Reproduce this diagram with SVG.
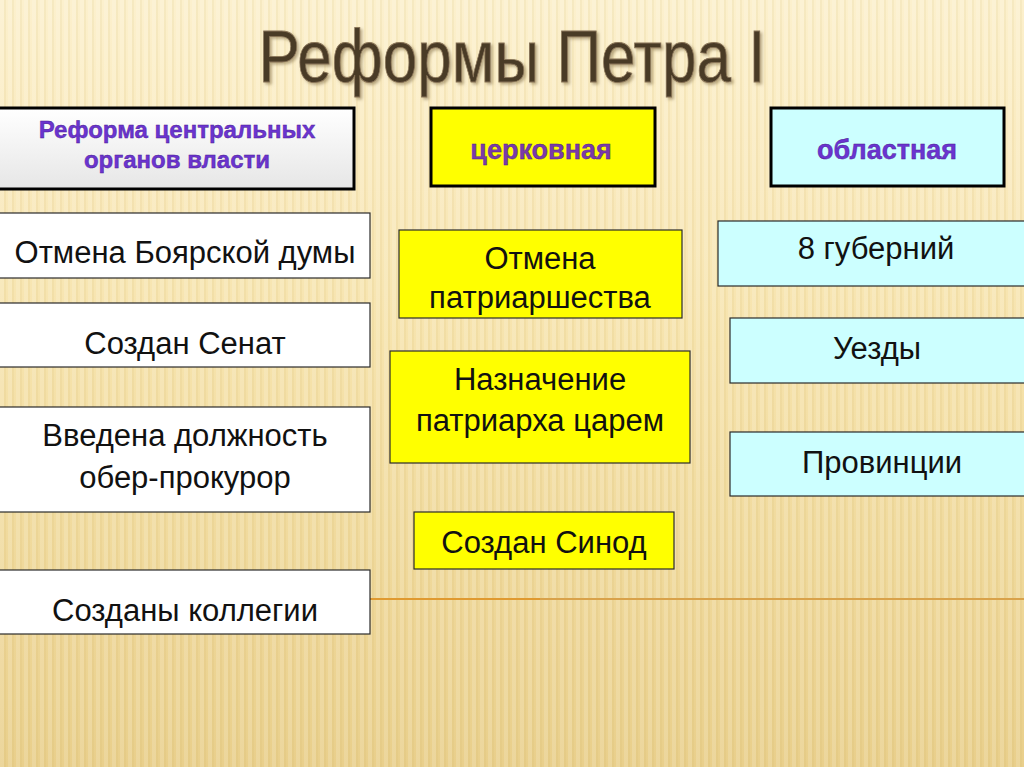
<svg xmlns="http://www.w3.org/2000/svg" width="1024" height="767" viewBox="0 0 1024 767">
  <defs>
    <linearGradient id="bg" x1="0" y1="0" x2="0" y2="1">
      <stop offset="0" stop-color="#fcf0cd"/>
      <stop offset="0.45" stop-color="#f6e3ac"/>
      <stop offset="1" stop-color="#e9cf8b"/>
    </linearGradient>
    <pattern id="stripes" width="8" height="767" patternUnits="userSpaceOnUse">
      <rect x="0" y="0" width="4" height="767" fill="#ffffff" opacity="0.15"/>
      <rect x="4" y="0" width="2" height="767" fill="#c9a85a" opacity="0.1"/>
    </pattern>
    <linearGradient id="grey" x1="0" y1="0" x2="0" y2="1">
      <stop offset="0" stop-color="#ffffff"/>
      <stop offset="1" stop-color="#e6e6e6"/>
    </linearGradient>
    <filter id="tshadow" x="-5%" y="-10%" width="110%" height="130%">
      <feDropShadow dx="2" dy="2" stdDeviation="1.5" flood-color="#8a7650" flood-opacity="0.6"/>
    </filter>
  </defs>
  <style>
    .hdr { stroke:#000; stroke-width:3; }
    .box { stroke:#2a2a2a; stroke-width:1.2; }
    .white { fill:#ffffff; }
    .yellow { fill:#ffff00; }
    .cyan { fill:#ccffff; }
    .ht { font-family:"Liberation Sans", Arial, sans-serif; font-weight:bold; font-size:24px; fill:#6a34d0; stroke:#4a1a90; stroke-width:0.4; text-anchor:middle; }
    .ht1 { font-size:27px; }
    .bt { font-family:"Liberation Sans", Arial, sans-serif; font-size:31px; fill:#111; text-anchor:middle; }
    .title { font-family:"Liberation Sans", Arial, sans-serif; font-size:74px; fill:#4a3a28; stroke:#8a7658; stroke-width:0.8; text-anchor:middle; }
  </style>

  <rect x="0" y="0" width="1024" height="767" fill="url(#bg)"/>
  <rect x="0" y="0" width="1024" height="767" fill="url(#stripes)"/>

  <text class="title" x="512" y="82" textLength="507" lengthAdjust="spacingAndGlyphs" filter="url(#tshadow)">Реформы Петра I</text>

  <g id="connectors">
    <line x1="370" y1="599" x2="1024" y2="599" stroke="#d9a24a" stroke-width="2"/>
    <line x1="370" y1="599" x2="540" y2="599" stroke="#e09a30" stroke-width="2"/>
  </g>

  <g id="hdr-central">
    <rect class="hdr" x="-2" y="108" width="356" height="81" fill="url(#grey)"/>
    <text class="ht" x="177" y="138">Реформа центральных</text>
    <text class="ht" x="177" y="168">органов власти</text>
  </g>
  <g id="hdr-church">
    <rect class="hdr yellow" x="431" y="108" width="224" height="78"/>
    <text class="ht ht1" x="541" y="159" style="fill:#7a3aa8">церковная</text>
  </g>
  <g id="hdr-region">
    <rect class="hdr cyan" x="771" y="108" width="233" height="78"/>
    <text class="ht ht1" x="887" y="159">областная</text>
  </g>

  <g id="n-boyar">
    <rect class="box white" x="-1" y="213" width="371" height="65"/>
    <text class="bt" x="185" y="263">Отмена Боярской думы</text>
  </g>
  <g id="n-senate">
    <rect class="box white" x="-1" y="303" width="371" height="64"/>
    <text class="bt" x="185" y="354">Создан Сенат</text>
  </g>
  <g id="n-oberprokuror">
    <rect class="box white" x="-1" y="407" width="371" height="105"/>
    <text class="bt" x="185" y="446">Введена должность</text>
    <text class="bt" x="185" y="488">обер-прокурор</text>
  </g>
  <g id="n-collegia">
    <rect class="box white" x="-1" y="570" width="371" height="64"/>
    <text class="bt" x="185" y="621">Созданы коллегии</text>
  </g>

  <g id="n-patriarchate">
    <rect class="box yellow" x="399" y="230" width="283" height="88"/>
    <text class="bt" x="540" y="269">Отмена</text>
    <text class="bt" x="540" y="308">патриаршества</text>
  </g>
  <g id="n-appoint">
    <rect class="box yellow" x="390" y="351" width="300" height="112"/>
    <text class="bt" x="540" y="390">Назначение</text>
    <text class="bt" x="540" y="431">патриарха царем</text>
  </g>
  <g id="n-synod">
    <rect class="box yellow" x="414" y="512" width="260" height="57"/>
    <text class="bt" x="544" y="553">Создан Синод</text>
  </g>

  <g id="n-gubernii">
    <rect class="box cyan" x="718" y="221" width="310" height="65"/>
    <text class="bt" x="876" y="259">8 губерний</text>
  </g>
  <g id="n-uezdy">
    <rect class="box cyan" x="730" y="318" width="298" height="65"/>
    <text class="bt" x="877" y="359">Уезды</text>
  </g>
  <g id="n-provinces">
    <rect class="box cyan" x="730" y="432" width="298" height="64"/>
    <text class="bt" x="882" y="473">Провинции</text>
  </g>
</svg>
